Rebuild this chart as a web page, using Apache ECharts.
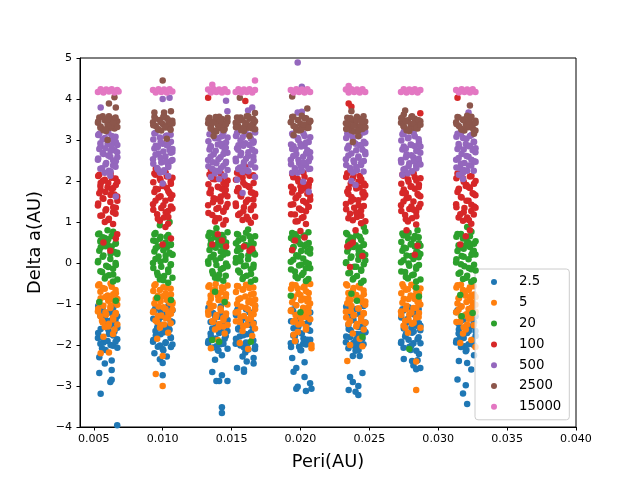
<!DOCTYPE html>
<html>
<head>
    <meta charset="UTF-8">
    <title>Delta a vs Peri</title>
    <script src="https://cdn.jsdelivr.net/npm/echarts/dist/echarts.min.js"></script>
    <style>
        body { margin: 0; background: #fff; }
        #main { width: 640px; height: 480px; }
    </style>
</head>
<body>
    <div id="main"></div>
    <script>
        // series names (legend) and tab10 colours
        var seriesNames = ['2.5', '5', '20', '100', '500', '2500', '15000'];
        var seriesColors = ['#1f77b4', '#ff7f0e', '#2ca02c', '#d62728', '#9467bd', '#8c564b', '#e377c2'];
        var xTicks = [0.005, 0.010, 0.015, 0.020, 0.025, 0.030, 0.035, 0.040];

        // [peri, delta a], grouped by cluster
        var s2_5 = [
            [.0054,-1.12],[.0058,-1.35],[.0063,-1.22],[.0066,-1.48],[.0055,-1.61],[.0061,-1.73],[.0067,-1.86],[.0057,-1.94],[.0064,-2.02],[.0059,-1.55],[.0053,-1.83],[.0062,-1.41],[.0065,-1.67],[.0056,-2.08],[.0060,-1.90],[.0067,-1.30],[.0054,-2.30],[.0058,-2.45],[.0063,-2.38],[.0054,-2.68],[.0063,-2.85],[.0062,-2.90],[.0063,-2.61],[.0055,-3.19],[.0067,-3.96],
            [.0094,-1.15],[.0099,-1.32],[.0104,-1.21],[.0107,-1.44],[.0096,-1.58],[.0101,-1.69],[.0106,-1.83],[.0093,-1.92],[.0098,-2.01],[.0103,-1.56],[.0095,-1.77],[.0102,-1.95],[.0105,-1.63],[.0097,-1.40],[.0100,-2.10],[.0106,-2.05],[.0094,-2.20],[.0103,-2.28],[.0100,-2.44],[.0100,-2.74],[.0098,-2.35],
            [.0134,-1.18],[.0138,-1.30],[.0143,-1.24],[.0146,-1.47],[.0136,-1.60],[.0141,-1.71],[.0145,-1.85],[.0133,-1.95],[.0139,-2.03],[.0144,-1.55],[.0135,-1.80],[.0142,-1.98],[.0147,-1.66],[.0137,-1.42],[.0140,-2.12],[.0143,-2.25],[.0138,-2.36],[.0136,-2.66],[.0139,-2.88],[.0141,-2.88],[.0143,-2.74],[.0147,-2.88],[.0143,-3.52],[.0143,-3.66],
            [.0154,-1.16],[.0158,-1.33],[.0163,-1.20],[.0166,-1.46],[.0155,-1.62],[.0161,-1.74],[.0165,-1.88],[.0153,-1.97],[.0159,-2.06],[.0164,-1.52],[.0156,-1.79],[.0162,-1.95],[.0167,-2.10],[.0157,-1.41],[.0160,-2.18],[.0166,-2.32],[.0158,-2.28],[.0154,-2.56],[.0159,-2.60],[.0159,-2.65],[.0161,-2.40],[.0166,-2.45],
            [.0194,-1.14],[.0198,-1.34],[.0203,-1.23],[.0206,-1.45],[.0195,-1.59],[.0201,-1.72],[.0205,-1.87],[.0193,-1.96],[.0199,-2.04],[.0204,-1.54],[.0196,-1.78],[.0202,-1.97],[.0207,-1.65],[.0197,-1.43],[.0200,-2.12],[.0194,-2.32],[.0195,-2.65],[.0197,-2.56],[.0203,-2.78],[.0197,-3.07],[.0198,-3.02],[.0204,-3.12],[.0208,-3.07],[.0207,-2.93],[.0203,-2.42],
            [.0234,-1.17],[.0238,-1.31],[.0243,-1.25],[.0246,-1.49],[.0235,-1.61],[.0241,-1.73],[.0245,-1.84],[.0233,-1.93],[.0239,-2.02],[.0244,-1.57],[.0236,-1.81],[.0242,-1.99],[.0247,-1.68],[.0237,-1.39],[.0240,-2.14],[.0238,-2.27],[.0245,-2.68],[.0236,-2.78],[.0238,-2.90],[.0235,-3.10],[.0240,-3.14],[.0242,-3.00],[.0242,-3.22],[.0243,-2.27],
            [.0274,-1.13],[.0278,-1.36],[.0283,-1.22],[.0286,-1.47],[.0275,-1.60],[.0281,-1.70],[.0285,-1.86],[.0273,-1.95],[.0279,-2.05],[.0284,-1.53],[.0276,-1.79],[.0282,-1.96],[.0287,-1.64],[.0277,-1.42],[.0280,-2.12],[.0275,-2.34],[.0281,-2.39],[.0285,-2.37],[.0282,-2.50],[.0284,-2.59],[.0287,-2.56],[.0286,-2.22],
            [.0314,-1.15],[.0318,-1.33],[.0323,-1.21],[.0326,-1.45],[.0315,-1.62],[.0321,-1.71],[.0325,-1.87],[.0313,-1.94],[.0319,-2.03],[.0324,-1.55],[.0316,-1.80],[.0322,-1.98],[.0327,-1.66],[.0317,-1.40],[.0320,-2.15],[.0314,-2.84],[.0318,-3.18],[.0321,-3.44],[.0320,-2.98],[.0315,-2.39],[.0321,-2.44],[.0324,-2.60],[.0326,-2.25],
            [.00532,-1.05],[.00532,-1.71],[.00548,-1.28],[.00548,-1.97],[.00565,-1.14],[.00565,-1.83],[.00585,-1.46],[.00585,-2.12],[.00605,-1.21],[.00605,-1.62],[.00622,-1.52],[.00622,-2.00],[.00641,-1.09],[.00641,-1.77],[.00658,-1.38],[.00658,-1.92],[.00671,-1.58],[.00671,-2.07],
            [.00932,-1.36],[.00932,-1.88],[.00948,-1.10],[.00948,-1.66],[.00965,-1.49],[.00965,-2.04],[.00985,-1.19],[.00985,-1.74],[.01005,-1.60],[.01005,-2.13],[.01022,-1.27],[.01022,-1.93],[.01041,-1.04],[.01041,-1.55],[.01058,-1.42],[.01058,-1.81],[.01071,-1.15],[.01071,-1.99],
            [.01332,-1.09],[.01332,-1.90],[.01348,-1.44],[.01348,-1.72],[.01365,-1.22],[.01365,-2.06],[.01385,-1.57],[.01385,-1.84],[.01405,-1.31],[.01405,-2.14],[.01422,-1.06],[.01422,-1.65],[.01441,-1.50],[.01441,-1.97],[.01458,-1.26],[.01458,-1.78],[.01471,-1.39],[.01471,-2.09],
            [.01532,-1.27],[.01532,-1.85],[.01548,-1.08],[.01548,-1.60],[.01565,-1.52],[.01565,-2.01],[.01585,-1.34],[.01585,-1.76],[.01605,-1.13],[.01605,-1.94],[.01622,-1.45],[.01622,-2.11],[.01641,-1.23],[.01641,-1.69],[.01658,-1.58],[.01658,-1.89],[.01671,-1.05],[.01671,-2.03],
            [.01932,-1.42],[.01932,-2.05],[.01948,-1.18],[.01948,-1.77],[.01965,-1.03],[.01965,-1.91],[.01985,-1.55],[.01985,-1.68],[.02005,-1.29],[.02005,-2.13],[.02022,-1.11],[.02022,-1.84],[.02041,-1.48],[.02041,-1.99],[.02058,-1.35],[.02058,-1.63],[.02071,-1.21],[.02071,-1.87],
            [.02332,-1.07],[.02332,-1.79],[.02348,-1.51],[.02348,-2.08],[.02365,-1.24],[.02365,-1.64],[.02385,-1.39],[.02385,-1.95],[.02405,-1.12],[.02405,-1.86],[.02422,-1.56],[.02422,-2.12],[.02441,-1.30],[.02441,-1.73],[.02458,-1.05],[.02458,-1.98],[.02471,-1.45],[.02471,-1.69],
            [.02732,-1.33],[.02732,-1.92],[.02748,-1.16],[.02748,-2.07],[.02765,-1.47],[.02765,-1.74],[.02785,-1.08],[.02785,-1.87],[.02805,-1.58],[.02805,-2.02],[.02822,-1.25],[.02822,-1.67],[.02841,-1.40],[.02841,-2.14],[.02858,-1.12],[.02858,-1.81],[.02871,-1.53],[.02871,-1.96],
            [.03132,-1.20],[.03132,-1.89],[.03148,-1.49],[.03148,-1.72],[.03165,-1.06],[.03165,-2.05],[.03185,-1.37],[.03185,-1.83],[.03205,-1.26],[.03205,-2.12],[.03222,-1.57],[.03222,-1.66],[.03241,-1.10],[.03241,-1.95],[.03258,-1.43],[.03258,-2.00],[.03271,-1.30],[.03271,-1.78]
        ];
        var s5 = [
            [.0054,-0.52],[.0058,-0.63],[.0063,-0.58],[.0066,-0.74],[.0055,-0.86],[.0060,-0.79],[.0065,-0.95],[.0057,-1.04],[.0062,-1.10],[.0067,-1.02],[.0053,-1.18],[.0059,-1.26],[.0064,-1.33],[.0056,-1.41],[.0061,-1.48],[.0066,-1.22],[.0054,-0.97],[.0063,-0.88],[.0058,-1.56],[.0065,-1.62],[.0055,-2.20],[.0061,-2.18],[.0057,-1.80],[.0064,-1.73],
            [.0094,-0.55],[.0098,-0.66],[.0103,-0.60],[.0106,-0.77],[.0095,-0.88],[.0100,-0.81],[.0105,-0.97],[.0097,-1.06],[.0102,-1.12],[.0107,-1.00],[.0093,-1.20],[.0099,-1.28],[.0104,-1.35],[.0096,-1.43],[.0101,-1.50],[.0106,-1.24],[.0094,-0.99],[.0103,-0.90],[.0098,-1.58],[.0104,-1.70],[.0095,-2.71],[.0100,-3.00],[.0100,-2.27],[.0096,-1.85],
            [.0134,-0.54],[.0138,-0.64],[.0143,-0.59],[.0146,-0.76],[.0135,-0.87],[.0140,-0.80],[.0145,-0.96],[.0137,-1.05],[.0142,-1.11],[.0147,-1.01],[.0133,-1.19],[.0139,-1.27],[.0144,-1.34],[.0136,-1.42],[.0141,-1.49],[.0146,-1.23],[.0134,-0.98],[.0143,-0.89],[.0138,-1.62],[.0145,-1.72],[.0135,-2.08],[.0140,-1.88],[.0144,-1.55],
            [.0154,-0.56],[.0158,-0.65],[.0163,-0.61],[.0166,-0.75],[.0155,-0.89],[.0160,-0.82],[.0165,-0.98],[.0157,-1.07],[.0162,-1.13],[.0167,-1.03],[.0153,-1.21],[.0159,-1.29],[.0164,-1.36],[.0156,-1.44],[.0161,-1.51],[.0166,-1.25],[.0154,-1.00],[.0163,-0.91],[.0158,-1.66],[.0165,-1.78],[.0156,-1.95],[.0162,-2.10],[.0167,-1.60],
            [.0194,-0.53],[.0198,-0.62],[.0203,-0.57],[.0206,-0.73],[.0195,-0.85],[.0200,-0.78],[.0205,-0.94],[.0197,-1.03],[.0202,-1.09],[.0207,-0.99],[.0193,-1.17],[.0199,-1.25],[.0204,-1.32],[.0196,-1.40],[.0201,-1.47],[.0206,-1.21],[.0194,-0.96],[.0203,-0.87],[.0195,-1.75],[.0198,-1.68],[.0204,-1.62],[.0208,-2.08],[.0208,-2.00],[.0196,-1.90],
            [.0234,-0.55],[.0238,-0.67],[.0243,-0.60],[.0246,-0.76],[.0235,-0.88],[.0240,-0.80],[.0245,-0.96],[.0237,-1.05],[.0242,-1.11],[.0247,-1.02],[.0233,-1.19],[.0239,-1.27],[.0244,-1.34],[.0236,-1.42],[.0241,-1.49],[.0246,-1.23],[.0234,-0.98],[.0243,-0.89],[.0234,-2.39],[.0238,-1.72],[.0243,-1.85],[.0245,-2.03],[.0236,-2.00],[.0246,-1.62],
            [.0274,-0.52],[.0278,-0.64],[.0283,-0.58],[.0286,-0.75],[.0275,-0.87],[.0280,-0.79],[.0285,-0.95],[.0277,-1.04],[.0282,-1.10],[.0287,-1.01],[.0273,-1.18],[.0279,-1.26],[.0284,-1.33],[.0276,-1.41],[.0281,-1.48],[.0286,-1.22],[.0274,-0.97],[.0283,-0.88],[.0284,-3.10],[.0284,-2.40],[.0278,-1.70],[.0276,-1.58],
            [.0314,-0.54],[.0318,-0.66],[.0323,-0.59],[.0326,-0.77],[.0315,-0.86],[.0320,-0.80],[.0325,-0.97],[.0317,-1.06],[.0322,-1.12],[.0327,-1.02],[.0313,-1.20],[.0319,-1.28],[.0324,-1.35],[.0316,-1.43],[.0321,-1.50],[.0326,-1.24],[.0314,-0.99],[.0323,-0.90],[.0318,-1.72],[.0324,-1.88],[.0320,-1.62],[.0327,-2.05],[.0316,-1.95],
            [.00532,-0.55],[.00532,-1.12],[.00548,-0.70],[.00548,-1.30],[.00565,-0.61],[.00565,-1.45],[.00585,-0.83],[.00585,-1.20],[.00605,-0.92],[.00605,-1.55],[.00622,-0.50],[.00622,-1.05],[.00641,-0.76],[.00641,-1.38],[.00658,-0.66],[.00658,-1.25],[.00671,-0.88],[.00671,-1.50],
            [.00932,-0.68],[.00932,-1.18],[.00948,-0.52],[.00948,-1.40],[.00965,-0.80],[.00965,-1.29],[.00985,-0.93],[.00985,-1.52],[.01005,-0.59],[.01005,-1.08],[.01022,-0.74],[.01022,-1.35],[.01041,-0.85],[.01041,-1.22],[.01058,-0.63],[.01058,-1.47],[.01071,-0.96],[.01071,-1.14],
            [.01332,-0.58],[.01332,-1.26],[.01348,-0.79],[.01348,-1.10],[.01365,-0.67],[.01365,-1.44],[.01385,-0.51],[.01385,-1.33],[.01405,-0.90],[.01405,-1.57],[.01422,-0.72],[.01422,-1.16],[.01441,-0.62],[.01441,-1.39],[.01458,-0.84],[.01458,-1.28],[.01471,-0.55],[.01471,-1.51],
            [.01532,-0.71],[.01532,-1.42],[.01548,-0.57],[.01548,-1.19],[.01565,-0.86],[.01565,-1.31],[.01585,-0.64],[.01585,-1.54],[.01605,-0.53],[.01605,-1.09],[.01622,-0.95],[.01622,-1.37],[.01641,-0.77],[.01641,-1.24],[.01658,-0.60],[.01658,-1.48],[.01671,-0.89],[.01671,-1.13],
            [.01932,-0.63],[.01932,-1.15],[.01948,-0.82],[.01948,-1.43],[.01965,-0.54],[.01965,-1.27],[.01985,-0.75],[.01985,-1.50],[.02005,-0.91],[.02005,-1.34],[.02022,-0.60],[.02022,-1.20],[.02041,-0.69],[.02041,-1.56],[.02058,-0.87],[.02058,-1.08],[.02071,-0.51],[.02071,-1.37],
            [.02332,-0.52],[.02332,-1.33],[.02348,-0.73],[.02348,-1.49],[.02365,-0.90],[.02365,-1.17],[.02385,-0.61],[.02385,-1.28],[.02405,-0.78],[.02405,-1.55],[.02422,-0.56],[.02422,-1.11],[.02441,-0.85],[.02441,-1.41],[.02458,-0.67],[.02458,-1.22],[.02471,-0.94],[.02471,-1.46],
            [.02732,-0.74],[.02732,-1.27],[.02748,-0.58],[.02748,-1.53],[.02765,-0.65],[.02765,-1.13],[.02785,-0.88],[.02785,-1.39],[.02805,-0.53],[.02805,-1.21],[.02822,-0.81],[.02822,-1.46],[.02841,-0.70],[.02841,-1.09],[.02858,-0.92],[.02858,-1.32],[.02871,-0.62],[.02871,-1.58],
            [.03132,-0.60],[.03132,-1.44],[.03148,-0.86],[.03148,-1.14],[.03165,-0.53],[.03165,-1.30],[.03185,-0.72],[.03185,-1.57],[.03205,-0.95],[.03205,-1.25],[.03222,-0.66],[.03222,-1.36],[.03241,-0.79],[.03241,-1.10],[.03258,-0.57],[.03258,-1.52],[.03271,-0.83],[.03271,-1.19]
        ];
        var s20 = [
            [.0054,0.72],[.0058,0.61],[.0063,0.66],[.0066,0.48],[.0055,0.38],[.0060,0.45],[.0065,0.27],[.0057,0.18],[.0062,0.10],[.0067,0.22],[.0053,0.02],[.0059,-0.07],[.0064,-0.14],[.0056,-0.22],[.0061,-0.30],[.0066,-0.05],[.0054,0.30],[.0063,0.40],[.0058,-0.38],[.0064,-0.45],[.0055,0.55],[.0060,0.80],[.0054,-0.95],[.0066,-0.92],
            [.0094,0.70],[.0098,0.59],[.0103,0.64],[.0106,0.46],[.0095,0.36],[.0100,0.43],[.0105,0.25],[.0097,0.16],[.0102,0.08],[.0107,0.20],[.0093,0.00],[.0099,-0.09],[.0104,-0.16],[.0096,-0.24],[.0101,-0.32],[.0106,-0.03],[.0094,0.28],[.0103,0.38],[.0098,-0.40],[.0104,-0.48],[.0095,0.53],[.0105,1.00],[.0098,0.92],[.0096,-0.85],[.0106,-0.90],
            [.0134,0.74],[.0138,0.63],[.0143,0.68],[.0146,0.50],[.0135,0.40],[.0140,0.47],[.0145,0.29],[.0137,0.20],[.0142,0.12],[.0147,0.24],[.0133,0.04],[.0139,-0.05],[.0144,-0.12],[.0136,-0.20],[.0141,-0.28],[.0146,-0.01],[.0134,0.32],[.0143,0.42],[.0138,-0.36],[.0144,-0.43],[.0135,0.57],[.0139,0.85],[.0138,-0.70],[.0145,-0.95],[.0136,-1.88],[.0141,-1.92],
            [.0154,0.71],[.0158,0.60],[.0163,0.65],[.0166,0.47],[.0155,0.37],[.0160,0.44],[.0165,0.26],[.0157,0.17],[.0162,0.09],[.0167,0.21],[.0153,0.01],[.0159,-0.08],[.0164,-0.15],[.0156,-0.23],[.0161,-0.31],[.0166,-0.04],[.0154,0.29],[.0163,0.39],[.0158,-0.39],[.0164,-0.46],[.0155,0.54],[.0162,0.82],[.0164,-1.92],
            [.0194,0.73],[.0198,0.62],[.0203,0.67],[.0206,0.49],[.0195,0.39],[.0200,0.46],[.0205,0.28],[.0197,0.19],[.0202,0.11],[.0207,0.23],[.0193,0.03],[.0199,-0.06],[.0204,-0.13],[.0196,-0.21],[.0201,-0.29],[.0206,-0.02],[.0194,0.31],[.0203,0.41],[.0198,-0.37],[.0204,-0.44],[.0195,0.56],[.0193,-0.80],[.0200,-1.20],
            [.0234,0.70],[.0238,0.59],[.0243,0.64],[.0246,0.46],[.0235,0.36],[.0240,0.43],[.0245,0.25],[.0237,0.16],[.0242,0.08],[.0247,0.20],[.0233,0.00],[.0239,-0.09],[.0244,-0.16],[.0236,-0.24],[.0241,-0.32],[.0246,-0.03],[.0234,0.28],[.0243,0.38],[.0238,-0.40],[.0244,-0.48],[.0235,0.53],[.0246,0.88],[.0237,-0.75],[.0241,-0.92],[.0245,-1.80],
            [.0274,0.72],[.0278,0.61],[.0283,0.66],[.0286,0.48],[.0275,0.38],[.0280,0.45],[.0285,0.27],[.0277,0.18],[.0282,0.10],[.0287,0.22],[.0273,0.02],[.0279,-0.07],[.0284,-0.14],[.0276,-0.22],[.0281,-0.30],[.0286,-0.05],[.0274,0.30],[.0283,0.40],[.0278,-0.38],[.0284,-0.45],[.0285,0.80],[.0286,-0.82],[.0284,-0.60],[.0279,-2.10],
            [.0314,0.71],[.0318,0.60],[.0323,0.65],[.0326,0.47],[.0315,0.37],[.0320,0.44],[.0325,0.26],[.0317,0.17],[.0322,0.09],[.0327,0.21],[.0313,0.01],[.0319,-0.08],[.0324,-0.15],[.0316,-0.23],[.0321,-0.31],[.0326,-0.04],[.0314,0.29],[.0323,0.39],[.0318,-0.39],[.0324,-0.46],[.0321,0.88],[.0316,-0.78],[.0317,-1.30],[.0325,-1.22],
            [.00532,0.70],[.00532,0.05],[.00548,0.52],[.00548,-0.20],[.00565,0.63],[.00565,0.15],[.00585,0.41],[.00585,-0.33],[.00605,0.58],[.00605,-0.10],[.00622,0.34],[.00622,0.22],[.00641,0.76],[.00641,-0.28],[.00658,0.47],[.00658,0.00],[.00671,0.25],[.00671,-0.40],
            [.00932,0.55],[.00932,-0.12],[.00948,0.73],[.00948,0.10],[.00965,0.40],[.00965,-0.30],[.00985,0.64],[.00985,0.03],[.01005,0.31],[.01005,-0.42],[.01022,0.50],[.01022,0.18],[.01041,0.68],[.01041,-0.22],[.01058,0.44],[.01058,-0.05],[.01071,0.21],[.01071,-0.36],
            [.01332,0.66],[.01332,-0.02],[.01348,0.45],[.01348,0.14],[.01365,0.72],[.01365,-0.26],[.01385,0.37],[.01385,0.07],[.01405,0.57],[.01405,-0.38],[.01422,0.28],[.01422,-0.15],[.01441,0.61],[.01441,0.20],[.01458,0.49],[.01458,-0.31],[.01471,0.75],[.01471,-0.08],
            [.01532,0.48],[.01532,0.12],[.01548,0.69],[.01548,-0.18],[.01565,0.33],[.01565,0.04],[.01585,0.60],[.01585,-0.35],[.01605,0.74],[.01605,-0.06],[.01622,0.42],[.01622,0.19],[.01641,0.54],[.01641,-0.27],[.01658,0.26],[.01658,-0.11],[.01671,0.65],[.01671,-0.41],
            [.01932,0.61],[.01932,-0.16],[.01948,0.38],[.01948,0.08],[.01965,0.70],[.01965,-0.33],[.01985,0.52],[.01985,0.16],[.02005,0.29],[.02005,-0.04],[.02022,0.66],[.02022,-0.24],[.02041,0.45],[.02041,0.01],[.02058,0.75],[.02058,-0.39],[.02071,0.35],[.02071,-0.13],
            [.02332,0.73],[.02332,0.02],[.02348,0.50],[.02348,-0.25],[.02365,0.62],[.02365,0.13],[.02385,0.39],[.02385,-0.37],[.02405,0.68],[.02405,-0.09],[.02422,0.32],[.02422,0.21],[.02441,0.56],[.02441,-0.19],[.02458,0.44],[.02458,-0.43],[.02471,0.77],[.02471,0.06],
            [.02732,0.51],[.02732,-0.21],[.02748,0.67],[.02748,0.07],[.02765,0.36],[.02765,-0.34],[.02785,0.74],[.02785,-0.01],[.02805,0.47],[.02805,0.17],[.02822,0.59],[.02822,-0.28],[.02841,0.27],[.02841,-0.09],[.02858,0.63],[.02858,0.14],[.02871,0.42],[.02871,-0.40],
            [.03132,0.64],[.03132,0.09],[.03148,0.43],[.03148,-0.26],[.03165,0.71],[.03165,-0.03],[.03185,0.35],[.03185,0.15],[.03205,0.58],[.03205,-0.36],[.03222,0.49],[.03222,-0.12],[.03241,0.76],[.03241,0.20],[.03258,0.30],[.03258,-0.42],[.03271,0.53],[.03271,-0.18]
        ];
        var s100 = [
            [.0054,2.15],[.0058,2.03],[.0063,2.08],[.0066,1.90],[.0055,1.78],[.0060,1.85],[.0065,1.67],[.0057,1.57],[.0062,1.49],[.0067,1.62],[.0053,1.40],[.0059,1.31],[.0064,1.24],[.0056,1.16],[.0061,1.08],[.0066,1.35],[.0054,1.70],[.0063,1.80],[.0058,1.00],[.0064,0.95],[.0055,1.95],[.0067,0.70],[.0057,0.50],[.0062,0.30],[.0066,0.60],
            [.0094,2.18],[.0098,2.06],[.0103,2.11],[.0106,1.93],[.0095,1.81],[.0100,1.88],[.0105,1.70],[.0097,1.60],[.0102,1.52],[.0107,1.65],[.0093,1.43],[.0099,1.34],[.0104,1.27],[.0096,1.19],[.0101,1.11],[.0106,1.38],[.0094,1.73],[.0103,1.83],[.0098,1.03],[.0104,0.96],[.0095,2.30],[.0100,0.45],[.0106,0.60],[.0102,0.88],
            [.0134,2.16],[.0138,2.04],[.0143,2.09],[.0146,1.91],[.0135,1.79],[.0140,1.86],[.0145,1.68],[.0137,1.58],[.0142,1.50],[.0147,1.63],[.0133,1.41],[.0139,1.32],[.0144,1.25],[.0136,1.17],[.0141,1.09],[.0146,1.36],[.0134,1.71],[.0143,1.81],[.0138,1.01],[.0144,0.94],[.0135,2.28],[.0136,0.45],[.0143,0.55],[.0140,0.70],[.0146,0.40],[.0133,4.03],
            [.0154,2.20],[.0158,2.08],[.0163,2.13],[.0166,1.95],[.0155,1.83],[.0160,1.90],[.0165,1.72],[.0157,1.62],[.0162,1.54],[.0167,1.67],[.0153,1.45],[.0159,1.36],[.0164,1.29],[.0156,1.21],[.0161,1.13],[.0166,1.40],[.0154,1.75],[.0163,1.85],[.0158,1.05],[.0164,0.98],[.0160,2.35],[.0159,0.40],[.0163,0.30],[.0165,0.35],[.0160,3.95],
            [.0194,2.17],[.0198,2.05],[.0203,2.10],[.0206,1.92],[.0195,1.80],[.0200,1.87],[.0205,1.69],[.0197,1.59],[.0202,1.51],[.0207,1.64],[.0193,1.42],[.0199,1.33],[.0204,1.26],[.0196,1.18],[.0201,1.10],[.0206,1.37],[.0194,1.72],[.0203,1.82],[.0198,1.02],[.0204,0.95],[.0200,0.78],[.0196,0.55],[.0203,0.62],[.0194,0.32],
            [.0234,2.19],[.0238,2.07],[.0243,2.12],[.0246,1.94],[.0235,1.82],[.0240,1.89],[.0245,1.71],[.0237,1.61],[.0242,1.53],[.0247,1.66],[.0233,1.44],[.0239,1.35],[.0244,1.28],[.0236,1.20],[.0241,1.12],[.0246,1.39],[.0234,1.74],[.0243,1.84],[.0238,1.04],[.0244,0.97],[.0235,3.89],[.0237,3.81],[.0240,0.80],[.0234,0.40],[.0236,0.45],[.0238,0.50],[.0236,-0.10],[.0245,0.17],
            [.0274,2.16],[.0278,2.04],[.0283,2.09],[.0286,1.91],[.0275,1.79],[.0280,1.86],[.0285,1.68],[.0277,1.58],[.0282,1.50],[.0287,1.63],[.0273,1.41],[.0279,1.32],[.0284,1.25],[.0276,1.17],[.0281,1.09],[.0286,1.36],[.0274,1.71],[.0283,1.81],[.0278,1.01],[.0284,0.94],[.0287,3.65],[.0277,0.80],[.0285,0.42],[.0283,0.20],
            [.0314,2.18],[.0318,2.06],[.0323,2.11],[.0326,1.93],[.0315,1.81],[.0320,1.88],[.0325,1.70],[.0317,1.60],[.0322,1.52],[.0327,1.65],[.0313,1.43],[.0319,1.34],[.0324,1.27],[.0316,1.19],[.0321,1.11],[.0326,1.38],[.0314,1.73],[.0323,1.83],[.0318,1.03],[.0324,0.96],[.0314,4.03],[.0323,0.80],[.0320,0.65],[.0316,0.45],
            [.00532,2.12],[.00532,1.45],[.00548,1.88],[.00548,1.15],[.00565,2.00],[.00565,1.58],[.00585,1.73],[.00585,1.28],[.00605,1.95],[.00605,1.05],[.00622,1.66],[.00622,2.18],[.00641,1.83],[.00641,1.36],[.00658,2.06],[.00658,1.20],[.00671,1.52],[.00671,1.98],
            [.00932,1.97],[.00932,1.30],[.00948,2.15],[.00948,1.52],[.00965,1.80],[.00965,1.08],[.00985,1.63],[.00985,2.02],[.01005,1.90],[.01005,1.41],[.01022,1.24],[.01022,2.20],[.01041,1.75],[.01041,1.12],[.01058,1.57],[.01058,1.99],[.01071,2.08],[.01071,1.33],
            [.01332,1.92],[.01332,1.22],[.01348,1.70],[.01348,2.14],[.01365,2.05],[.01365,1.48],[.01385,1.56],[.01385,1.10],[.01405,1.85],[.01405,1.35],[.01422,2.18],[.01422,1.62],[.01441,1.27],[.01441,1.95],[.01458,1.78],[.01458,1.04],[.01471,1.44],[.01471,2.01],
            [.01532,2.03],[.01532,1.39],[.01548,1.81],[.01548,1.17],[.01565,1.64],[.01565,2.10],[.01585,1.96],[.01585,1.26],[.01605,1.49],[.01605,2.21],[.01622,1.87],[.01622,1.06],[.01641,1.33],[.01641,1.72],[.01658,2.14],[.01658,1.55],[.01671,1.69],[.01671,1.13],
            [.01932,1.86],[.01932,1.19],[.01948,2.09],[.01948,1.43],[.01965,1.58],[.01965,1.01],[.01985,1.99],[.01985,1.65],[.02005,1.76],[.02005,1.29],[.02022,2.20],[.02022,1.12],[.02041,1.47],[.02041,1.91],[.02058,1.84],[.02058,1.37],[.02071,2.02],[.02071,1.54],
            [.02332,2.10],[.02332,1.31],[.02348,1.68],[.02348,1.09],[.02365,1.94],[.02365,1.50],[.02385,1.55],[.02385,2.16],[.02405,1.82],[.02405,1.23],[.02422,1.41],[.02422,1.99],[.02441,2.04],[.02441,1.15],[.02458,1.73],[.02458,1.60],[.02471,1.89],[.02471,1.02],
            [.02732,1.93],[.02732,1.27],[.02748,2.13],[.02748,1.50],[.02765,1.71],[.02765,1.07],[.02785,1.59],[.02785,1.98],[.02805,1.87],[.02805,1.38],[.02822,1.30],[.02822,2.19],[.02841,2.01],[.02841,1.14],[.02858,1.65],[.02858,1.85],[.02871,1.44],[.02871,2.07],
            [.03132,2.07],[.03132,1.36],[.03148,1.79],[.03148,1.11],[.03165,1.61],[.03165,2.15],[.03185,1.98],[.03185,1.24],[.03205,1.52],[.03205,1.90],[.03222,1.85],[.03222,1.05],[.03241,2.12],[.03241,1.42],[.03258,1.68],[.03258,1.18],[.03271,1.35],[.03271,2.00]
        ];
        var s500 = [
            [.0054,3.15],[.0058,3.05],[.0063,3.10],[.0066,2.95],[.0055,2.85],[.0060,2.90],[.0065,2.75],[.0057,2.66],[.0062,2.59],[.0067,2.70],[.0053,2.52],[.0059,2.44],[.0064,2.38],[.0056,2.31],[.0061,2.25],[.0066,2.48],[.0054,2.78],[.0063,2.86],[.0058,2.20],[.0055,3.79],[.0062,2.13],[.0066,1.62],
            [.0094,3.16],[.0098,3.06],[.0103,3.11],[.0106,2.96],[.0095,2.86],[.0100,2.91],[.0105,2.76],[.0097,2.67],[.0102,2.60],[.0107,2.71],[.0093,2.53],[.0099,2.45],[.0104,2.39],[.0096,2.32],[.0101,2.26],[.0106,2.49],[.0094,2.79],[.0103,2.87],[.0098,2.21],[.0100,4.00],[.0105,4.03],[.0100,1.94],[.0104,2.12],
            [.0134,3.14],[.0138,3.04],[.0143,3.09],[.0146,2.94],[.0135,2.84],[.0140,2.89],[.0145,2.74],[.0137,2.65],[.0142,2.58],[.0147,2.69],[.0133,2.51],[.0139,2.43],[.0144,2.37],[.0136,2.30],[.0141,2.24],[.0146,2.47],[.0134,2.77],[.0143,2.85],[.0138,2.19],[.0146,3.96],[.0147,3.70],[.0135,2.10],[.0145,2.13],[.0141,2.05],
            [.0154,3.17],[.0158,3.07],[.0163,3.12],[.0166,2.97],[.0155,2.87],[.0160,2.92],[.0165,2.77],[.0157,2.68],[.0162,2.61],[.0167,2.72],[.0153,2.54],[.0159,2.46],[.0164,2.40],[.0156,2.33],[.0161,2.27],[.0166,2.50],[.0154,2.80],[.0163,2.88],[.0158,2.22],[.0162,3.72],[.0165,3.79],[.0167,2.10],[.0154,2.03],[.0158,1.71],
            [.0194,3.15],[.0198,3.05],[.0203,3.10],[.0206,2.95],[.0195,2.85],[.0200,2.90],[.0205,2.75],[.0197,2.66],[.0202,2.59],[.0207,2.70],[.0193,2.52],[.0199,2.44],[.0204,2.38],[.0196,2.31],[.0201,2.25],[.0206,2.48],[.0194,2.78],[.0203,2.86],[.0198,2.20],[.0198,4.89],[.0201,4.30],[.0198,3.67],[.0201,3.69],[.0207,2.30],[.0194,2.20],[.0202,1.98],[.0206,1.74],
            [.0234,3.16],[.0238,3.06],[.0243,3.11],[.0246,2.96],[.0235,2.86],[.0240,2.91],[.0245,2.76],[.0237,2.67],[.0242,2.60],[.0247,2.71],[.0233,2.53],[.0239,2.45],[.0244,2.39],[.0236,2.32],[.0241,2.26],[.0246,2.49],[.0234,2.79],[.0243,2.87],[.0238,2.21],[.0237,2.00],[.0240,1.90],[.0247,3.20],
            [.0274,3.14],[.0278,3.04],[.0283,3.09],[.0286,2.94],[.0275,2.84],[.0280,2.89],[.0285,2.74],[.0277,2.65],[.0282,2.58],[.0287,2.69],[.0273,2.51],[.0279,2.43],[.0284,2.37],[.0276,2.30],[.0281,2.24],[.0286,2.47],[.0274,2.77],[.0283,2.85],[.0278,2.19],[.0275,3.20],[.0274,2.15],
            [.0314,3.15],[.0318,3.05],[.0323,3.10],[.0326,2.95],[.0315,2.85],[.0320,2.90],[.0325,2.75],[.0317,2.66],[.0322,2.59],[.0327,2.70],[.0313,2.52],[.0319,2.44],[.0324,2.38],[.0316,2.31],[.0321,2.25],[.0326,2.48],[.0314,2.78],[.0323,2.86],[.0318,2.20],[.0322,3.67],[.0315,2.15],[.0318,2.05],
            [.00532,3.12],[.00532,2.55],[.00548,2.92],[.00548,2.30],[.00565,3.02],[.00565,2.68],[.00585,2.80],[.00585,2.40],[.00605,3.18],[.00605,2.62],[.00622,2.73],[.00622,2.23],[.00641,2.98],[.00641,2.50],[.00658,3.08],[.00658,2.35],[.00671,2.88],[.00671,2.58],
            [.00932,3.01],[.00932,2.42],[.00948,3.17],[.00948,2.64],[.00965,2.83],[.00965,2.28],[.00985,2.95],[.00985,2.56],[.01005,2.72],[.01005,2.22],[.01022,3.09],[.01022,2.47],[.01041,2.90],[.01041,2.34],[.01058,3.13],[.01058,2.69],[.01071,2.78],[.01071,2.51],
            [.01332,2.97],[.01332,2.36],[.01348,2.85],[.01348,2.60],[.01365,3.14],[.01365,2.46],[.01385,2.74],[.01385,2.25],[.01405,3.04],[.01405,2.53],[.01422,2.91],[.01422,2.31],[.01441,3.19],[.01441,2.66],[.01458,2.81],[.01458,2.44],[.01471,3.06],[.01471,2.27],
            [.01532,3.10],[.01532,2.48],[.01548,2.76],[.01548,2.29],[.01565,2.99],[.01565,2.63],[.01585,2.86],[.01585,2.37],[.01605,3.15],[.01605,2.54],[.01622,2.70],[.01622,2.24],[.01641,3.03],[.01641,2.41],[.01658,2.93],[.01658,2.59],[.01671,3.18],[.01671,2.33],
            [.01932,2.89],[.01932,2.41],[.01948,3.11],[.01948,2.61],[.01965,2.77],[.01965,2.26],[.01985,3.00],[.01985,2.52],[.02005,2.84],[.02005,2.35],[.02022,3.16],[.02022,2.45],[.02041,2.94],[.02041,2.67],[.02058,2.71],[.02058,2.29],[.02071,3.07],[.02071,2.57],
            [.02332,3.05],[.02332,2.39],[.02348,2.82],[.02348,2.62],[.02365,3.13],[.02365,2.27],[.02385,2.96],[.02385,2.50],[.02405,2.75],[.02405,2.34],[.02422,3.09],[.02422,2.57],[.02441,2.87],[.02441,2.44],[.02458,3.18],[.02458,2.23],[.02471,2.92],[.02471,2.65],
            [.02732,2.99],[.02732,2.45],[.02748,3.14],[.02748,2.28],[.02765,2.79],[.02765,2.58],[.02785,3.06],[.02785,2.36],[.02805,2.88],[.02805,2.63],[.02822,3.17],[.02822,2.49],[.02841,2.73],[.02841,2.31],[.02858,3.02],[.02858,2.54],[.02871,2.84],[.02871,2.40],
            [.03132,3.08],[.03132,2.33],[.03148,2.90],[.03148,2.56],[.03165,3.16],[.03165,2.42],[.03185,2.77],[.03185,2.27],[.03205,3.03],[.03205,2.61],[.03222,2.85],[.03222,2.38],[.03241,3.12],[.03241,2.52],[.03258,2.96],[.03258,2.25],[.03271,2.80],[.03271,2.47]
        ];
        var s2500 = [
            [.0054,3.55],[.0058,3.48],[.0063,3.52],[.0066,3.40],[.0055,3.33],[.0060,3.38],[.0065,3.28],[.0057,3.24],[.0062,3.30],[.0067,3.46],[.0053,3.42],[.0061,3.58],[.0064,3.36],[.0059,3.22],[.0065,4.04],[.0066,3.79],[.0061,3.89],[.0060,3.00],
            [.0094,3.56],[.0098,3.49],[.0103,3.53],[.0106,3.41],[.0095,3.34],[.0100,3.39],[.0105,3.29],[.0097,3.25],[.0102,3.31],[.0107,3.47],[.0093,3.43],[.0101,3.59],[.0104,3.37],[.0099,3.23],[.0100,4.45],[.0094,3.67],[.0101,3.67],[.0106,3.70],[.0103,3.03],
            [.0134,3.54],[.0138,3.47],[.0143,3.51],[.0146,3.39],[.0135,3.32],[.0140,3.37],[.0145,3.27],[.0137,3.23],[.0142,3.29],[.0147,3.45],[.0133,3.41],[.0141,3.57],[.0144,3.35],[.0139,3.21],[.0137,3.10],
            [.0154,3.55],[.0158,3.48],[.0163,3.52],[.0166,3.40],[.0155,3.33],[.0160,3.38],[.0165,3.28],[.0157,3.24],[.0162,3.30],[.0167,3.46],[.0153,3.42],[.0161,3.58],[.0164,3.36],[.0159,3.22],[.0156,4.03],[.0167,3.66],[.0163,3.10],
            [.0194,3.56],[.0198,3.49],[.0203,3.53],[.0206,3.41],[.0195,3.34],[.0200,3.39],[.0205,3.29],[.0197,3.25],[.0202,3.31],[.0207,3.47],[.0193,3.43],[.0201,3.59],[.0204,3.37],[.0199,3.23],[.0194,4.06],[.0205,3.77],[.0195,3.12],
            [.0234,3.54],[.0238,3.47],[.0243,3.51],[.0246,3.39],[.0235,3.32],[.0240,3.37],[.0245,3.27],[.0237,3.23],[.0242,3.29],[.0247,3.45],[.0233,3.41],[.0241,3.57],[.0244,3.35],[.0239,3.21],[.0237,3.70],[.0242,3.10],[.0238,2.95],
            [.0274,3.55],[.0278,3.48],[.0283,3.52],[.0286,3.40],[.0275,3.33],[.0280,3.38],[.0285,3.28],[.0277,3.24],[.0282,3.30],[.0287,3.46],[.0273,3.42],[.0281,3.58],[.0284,3.36],[.0279,3.22],[.0276,3.72],[.0275,3.62],
            [.0314,3.56],[.0318,3.49],[.0323,3.53],[.0326,3.41],[.0315,3.34],[.0320,3.39],[.0325,3.29],[.0317,3.25],[.0322,3.31],[.0327,3.47],[.0313,3.43],[.0321,3.59],[.0324,3.37],[.0319,3.23],[.0323,3.84],[.0327,3.23],[.0326,3.15],
            [.00532,3.45],[.00548,3.30],[.00565,3.58],[.00585,3.26],[.00605,3.50],[.00622,3.35],[.00641,3.43],[.00658,3.55],[.00671,3.32],
            [.00932,3.36],[.00948,3.52],[.00965,3.27],[.00985,3.44],[.01005,3.57],[.01022,3.31],[.01041,3.49],[.01058,3.25],[.01071,3.40],
            [.01332,3.50],[.01348,3.28],[.01365,3.42],[.01385,3.56],[.01405,3.33],[.01422,3.47],[.01441,3.24],[.01458,3.39],[.01471,3.54],
            [.01532,3.31],[.01548,3.46],[.01565,3.55],[.01585,3.29],[.01605,3.41],[.01622,3.58],[.01641,3.34],[.01658,3.51],[.01671,3.26],
            [.01932,3.44],[.01948,3.57],[.01965,3.32],[.01985,3.48],[.02005,3.25],[.02022,3.38],[.02041,3.53],[.02058,3.30],[.02071,3.46],
            [.02332,3.27],[.02348,3.40],[.02365,3.53],[.02385,3.35],[.02405,3.49],[.02422,3.23],[.02441,3.45],[.02458,3.58],[.02471,3.31],
            [.02732,3.53],[.02748,3.34],[.02765,3.46],[.02785,3.26],[.02805,3.56],[.02822,3.41],[.02841,3.29],[.02858,3.48],[.02871,3.37],
            [.03132,3.39],[.03148,3.55],[.03165,3.28],[.03185,3.50],[.03205,3.33],[.03222,3.45],[.03241,3.57],[.03258,3.24],[.03271,3.42]
        ];
        var s15000 = [
            [.0053,4.17],[.0055,4.24],[.0057,4.16],[.0059,4.23],[.0061,4.18],[.0063,4.24],[.0065,4.16],[.0067,4.22],[.0068,4.18],
            [.0093,4.22],[.0095,4.16],[.0097,4.24],[.0099,4.17],[.0101,4.23],[.0103,4.16],[.0105,4.24],[.0107,4.18],
            [.0133,4.23],[.0135,4.16],[.0137,4.24],[.0139,4.17],[.0141,4.23],[.0143,4.16],[.0145,4.24],[.0147,4.17],[.0136,4.35],
            [.0153,4.17],[.0155,4.24],[.0157,4.16],[.0159,4.23],[.0161,4.17],[.0163,4.24],[.0165,4.16],[.0167,4.22],[.0167,4.45],
            [.0193,4.22],[.0195,4.16],[.0197,4.24],[.0199,4.17],[.0201,4.23],[.0203,4.16],[.0205,4.24],[.0207,4.17],
            [.0233,4.23],[.0235,4.16],[.0237,4.24],[.0239,4.17],[.0241,4.23],[.0243,4.16],[.0245,4.24],[.0247,4.17],[.0235,4.32],
            [.0273,4.17],[.0275,4.24],[.0277,4.16],[.0279,4.23],[.0281,4.17],[.0283,4.24],[.0285,4.16],[.0287,4.22],
            [.0313,4.22],[.0315,4.16],[.0317,4.24],[.0319,4.17],[.0321,4.23],[.0323,4.16],[.0325,4.24],[.0327,4.17]
        ];
        var seriesData = [s2_5, s5, s20, s100, s500, s2500, s15000];

        var myChart = echarts.init(document.getElementById('main'), null, { renderer: 'canvas' });
        var font = 'DejaVu Sans';

        var option = {
            animation: false,
            color: seriesColors,
            grid: {
                left: 80, right: 64, top: 58, bottom: 53,
                show: true, borderColor: '#000', borderWidth: 1
            },
            legend: {
                data: seriesNames,
                orient: 'vertical',
                left: 475,
                top: 269,
                padding: [6, 8, 6, 16],
                itemGap: 6.8,
                itemWidth: 6,
                itemHeight: 6,
                icon: 'circle',
                backgroundColor: 'rgba(255,255,255,0.8)',
                borderColor: '#cccccc',
                borderWidth: 1,
                borderRadius: 3,
                formatter: function (name) { return '{t|' + name + '}'; },
                textStyle: {
                    fontFamily: font, fontSize: 13.3, color: '#000', lineHeight: 14,
                    rich: { t: { fontFamily: font, fontSize: 13.3, color: '#000', lineHeight: 14, padding: [0, 0, 0, 17] } }
                }
            },
            xAxis: {
                type: 'value',
                min: 0.004,
                max: 0.04,
                name: 'Peri(AU)',
                nameLocation: 'middle',
                nameGap: 26,
                nameTextStyle: { fontFamily: font, fontSize: 17.8, color: '#000' },
                axisLine: { show: true, onZero: false, lineStyle: { color: '#000', width: 1 } },
                axisTick: { show: true, length: 3.5, lineStyle: { color: '#000' }, customValues: xTicks },
                axisLabel: {
                    customValues: xTicks,
                    margin: 7,
                    fontFamily: font, fontSize: 11.1, color: '#000',
                    formatter: function (v) { return v.toFixed(3); }
                },
                splitLine: { show: false }
            },
            yAxis: {
                type: 'value',
                min: -4,
                max: 5,
                interval: 1,
                name: 'Delta a(AU)',
                nameLocation: 'middle',
                nameGap: 36,
                nameTextStyle: { fontFamily: font, fontSize: 17.8, color: '#000' },
                axisLine: { show: true, onZero: false, lineStyle: { color: '#000', width: 1 } },
                axisTick: { show: true, length: 3.5, lineStyle: { color: '#000' } },
                axisLabel: {
                    margin: 8,
                    fontFamily: font, fontSize: 11.1, color: '#000',
                    formatter: function (v) { return v < 0 ? '\u2212' + Math.abs(v) : String(v); }
                },
                splitLine: { show: false }
            },
            series: seriesNames.map(function (name, i) {
                return {
                    name: name,
                    type: 'scatter',
                    symbol: 'circle',
                    symbolSize: 6.5,
                    itemStyle: { color: seriesColors[i], opacity: 1 },
                    emphasis: { disabled: true },
                    data: seriesData[i],
                    z: 2 + i
                };
            })
        };

        option && myChart.setOption(option);
    </script>
</body>
</html>
